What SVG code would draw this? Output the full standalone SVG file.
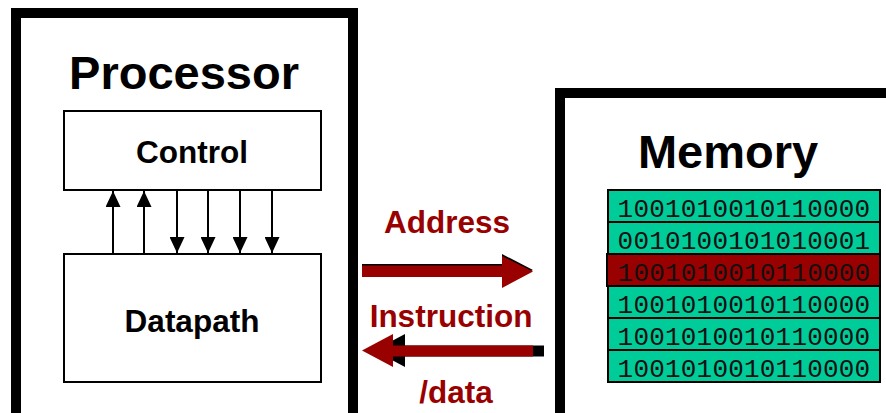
<svg xmlns="http://www.w3.org/2000/svg" width="886" height="413" viewBox="0 0 886 413">
<defs>
<style>
.big{font-family:"Liberation Sans",Arial,sans-serif;font-weight:bold;font-size:47px;fill:#000;text-anchor:middle}
.mid{font-family:"Liberation Sans",Arial,sans-serif;font-weight:bold;font-size:31.5px;fill:#000;text-anchor:middle}
.red{fill:#990000}
.box{fill:#fff;stroke:#000;stroke-width:2}
.frame{fill:#fff;stroke:#000;stroke-width:10}
.row{fill:#00CC99;stroke:#000;stroke-width:2}
.sel{fill:#990000;stroke:#000;stroke-width:2}
.bits{font-family:"Liberation Mono","Courier New",monospace;font-size:26px;fill:#111;text-anchor:middle;letter-spacing:0.2px}
.ln{stroke:#000;stroke-width:2}
</style>
<marker id="ah" viewBox="0 0 16 15" refX="16" refY="7.5" markerWidth="16" markerHeight="15" markerUnits="userSpaceOnUse" orient="auto">
<path d="M0,0 L16,7.5 L0,15 Z" fill="#000"/>
</marker>
</defs>
<rect width="886" height="413" fill="#fff"/>
<g id="processor">
<rect class="frame" x="16" y="13" width="337" height="410"/>
<text class="big" x="184" y="89">Processor</text>
</g>
<g id="control">
<rect class="box" x="64" y="111" width="257" height="79"/>
<text class="mid" x="192" y="163">Control</text>
</g>
<g id="datapath">
<rect class="box" x="64" y="254" width="257" height="128"/>
<text class="mid" x="192" y="332">Datapath</text>
</g>
<g id="memory">
<rect class="frame" x="560" y="93" width="400" height="340"/>
<text class="big" x="728" y="168">Memory</text>
<rect class="row" x="608" y="190" width="272" height="32"/>
<text class="bits" x="744" y="217">1001010010110000</text>
<rect class="row" x="608" y="222" width="272" height="32"/>
<text class="bits" x="744" y="249">0010100101010001</text>
<rect class="sel" x="607" y="254" width="273" height="32"/>
<text class="bits" x="744" y="281">1001010010110000</text>
<rect class="row" x="608" y="286" width="272" height="32"/>
<text class="bits" x="744" y="313">1001010010110000</text>
<rect class="row" x="608" y="318" width="272" height="32"/>
<text class="bits" x="744" y="345">1001010010110000</text>
<rect class="row" x="608" y="350" width="272" height="32"/>
<text class="bits" x="744" y="377">1001010010110000</text>
</g>
<g id="connectors">
<line class="ln" x1="113" y1="254" x2="113" y2="191" marker-end="url(#ah)"/>
<line class="ln" x1="144" y1="254" x2="144" y2="191" marker-end="url(#ah)"/>
<line class="ln" x1="177" y1="190" x2="177" y2="253" marker-end="url(#ah)"/>
<line class="ln" x1="208" y1="190" x2="208" y2="253" marker-end="url(#ah)"/>
<line class="ln" x1="240" y1="190" x2="240" y2="253" marker-end="url(#ah)"/>
<line class="ln" x1="272" y1="190" x2="272" y2="253" marker-end="url(#ah)"/>
<path d="M362,264 L502,264 L502,254 L533,270 L502,287 L502,276 L362,276 Z" fill="#000"/>
<path d="M362,265.5 L502,265.5 L502,256 L533,271.5 L502,288 L502,277 L362,277 Z" fill="#990000"/>
<path d="M374,350.5 L405,334 L405,345.5 L544,345.5 L544,356.5 L405,356.5 L405,367 Z" fill="#000"/>
<path d="M362,350.5 L393,334 L393,345.5 L533,345.5 L533,356.5 L393,356.5 L393,367 Z" fill="#990000"/>
</g>
<g id="labels">
<text class="mid red" x="447" y="233">Address</text>
<text class="mid red" x="451" y="327">Instruction</text>
<text class="mid red" x="456" y="403">/data</text>
</g>
</svg>
